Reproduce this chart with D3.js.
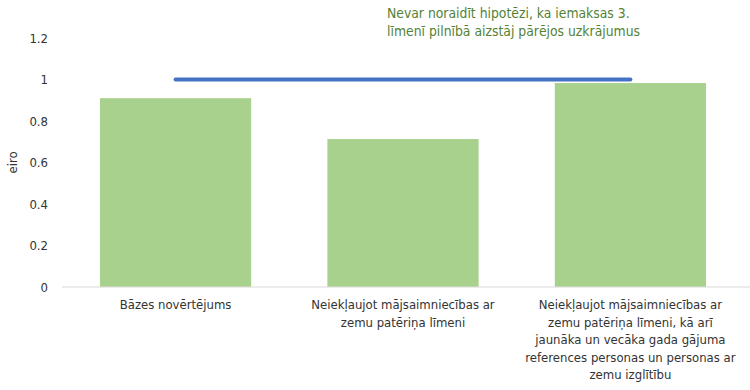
<!DOCTYPE html>
<html><head><meta charset="utf-8">
<script src="https://cdn.jsdelivr.net/npm/d3@7"></script>
<style>body{margin:0;background:#fff}text{font-family:"DejaVu Sans Condensed","DejaVu Sans",sans-serif}</style>
</head><body><svg id="c" width="750" height="390"></svg>
<script>
const categories = [
  ["Bāzes novērtējums"],
  ["Neiekļaujot mājsaimniecības ar", "zemu patēriņa līmeni"],
  ["Neiekļaujot mājsaimniecības ar", "zemu patēriņa līmeni, kā arī", "jaunāka un vecāka gada gājuma", "references personas un personas ar", "zemu izglītību"]
];
const values = [0.91, 0.713, 0.983];
const lineValue = 1;
const yTicks = [0, 0.2, 0.4, 0.6, 0.8, 1, 1.2];
const annotation = ["Nevar noraidīt hipotēzi, ka iemaksas 3.", "līmenī pilnībā aizstāj pārējos uzkrājumus"];
const yLabel = "eiro";

const svg = d3.select("#c");
const x = d3.scaleBand().domain(d3.range(categories.length)).range([62, 744]).paddingInner(0.335).paddingOuter(0.167);
const y = d3.scaleLinear().domain([0, 1.2]).range([287, 38]);

// y tick labels
svg.append("g").selectAll("text").data(yTicks).join("text")
  .attr("x", 48).attr("y", d => y(d)).attr("dy", "0.35em")
  .attr("text-anchor", "end").attr("font-size", 13).attr("fill", "#333")
  .text(d => d);

svg.append("text").attr("transform", `translate(17,${y(0.6)}) rotate(-90)`)
  .attr("text-anchor", "middle").attr("font-size", 13).attr("fill", "#333").text(yLabel);

// bars
svg.append("g").selectAll("rect").data(values).join("rect")
  .attr("x", (d, i) => x(i)).attr("width", x.bandwidth())
  .attr("y", d => y(d)).attr("height", d => y(0) - y(d))
  .attr("fill", "#A9D18E");

// axis line
svg.append("line").attr("x1", 62).attr("x2", 750).attr("y1", y(0)).attr("y2", y(0))
  .attr("stroke", "#D9D9D9").attr("stroke-width", 1);

// horizontal line at 1
svg.append("line")
  .attr("x1", x(0) + x.bandwidth() / 2).attr("x2", x(categories.length - 1) + x.bandwidth() / 2)
  .attr("y1", y(lineValue)).attr("y2", y(lineValue))
  .attr("stroke", "#4472C4").attr("stroke-width", 4).attr("stroke-linecap", "round");

// category labels
const cl = svg.append("g").selectAll("text").data(categories).join("text")
  .attr("text-anchor", "middle").attr("font-size", 13).attr("fill", "#333")
  .attr("x", (d, i) => x(i) + x.bandwidth() / 2).attr("y", 309);
cl.selectAll("tspan").data(d => d).join("tspan")
  .attr("x", function () { return d3.select(this.parentNode).attr("x"); })
  .attr("dy", (d, i) => i === 0 ? 0 : 17.5).text(d => d);

// annotation
const an = svg.append("text").attr("font-size", 13.8).attr("fill", "#548235").attr("x", 387).attr("y", 18);
an.selectAll("tspan").data(annotation).join("tspan").attr("x", 387).attr("dy", (d, i) => i === 0 ? 0 : 18).text(d => d);
</script></body></html>
